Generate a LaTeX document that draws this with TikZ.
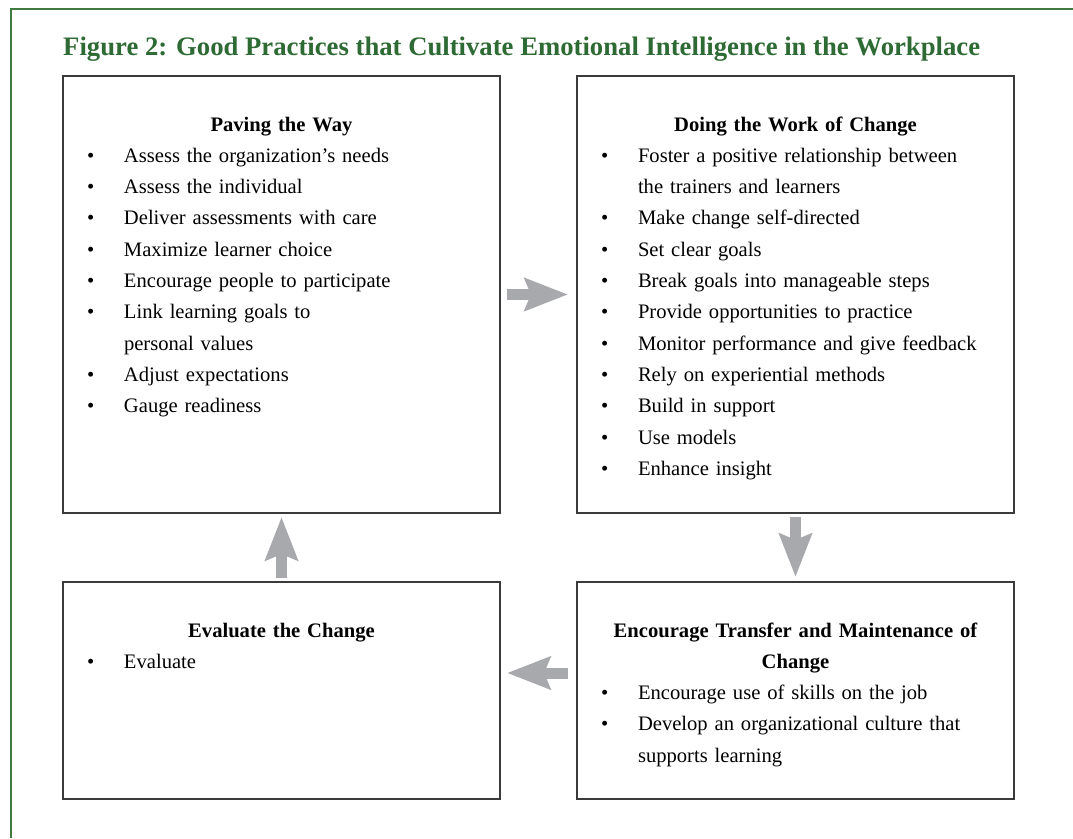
\documentclass[tikz,border=0pt]{standalone}
\usepackage{fontspec}
\setmainfont{Liberation Serif}
\usetikzlibrary{positioning,arrows.meta}
\definecolor{figgreen}{HTML}{2E6A33}
\definecolor{framegreen}{HTML}{3F7A40}
\definecolor{boxline}{HTML}{3A3A3A}
\definecolor{arrowgray}{HTML}{A7A9AC}
\newcommand{\panelhead}[1]{{\centering\bfseries\strut#1\par}}
\newcommand{\pitem}[1]{{\raggedright\hangindent=37pt\hangafter=1\noindent\makebox[37pt][l]{\textbullet}#1\par}}
\tikzset{
  panel/.style={draw=boxline, line width=1.5pt, minimum width=437pt, outer sep=0pt, inner sep=0pt},
  listtext/.style={text width=389pt, inner sep=0pt, outer sep=0pt, anchor=north west,
    font=\fontsize{20.6}{31.3}\selectfont},
  bigarrow/.style={draw=arrowgray, line width=11pt,
    -{Stealth[length=43pt, width=32pt, inset=6pt]}},
}
\begin{document}
\begin{tikzpicture}[x=1pt, y=-1pt]
\useasboundingbox (0,0) rectangle (1073,838);
\draw[framegreen, line width=2pt] (11,838) -- (11,9) -- (1073,9);
\node[anchor=base west, inner sep=0pt, text=figgreen, font=\fontsize{26.7}{32}\selectfont\bfseries] (title) at (63,55)
  {Figure 2: Good Practices that Cultivate Emotional Intelligence in the Workplace};

\node[panel, minimum height=437pt] (pave) at (281.5,294.5) {};
\node[panel, minimum height=437pt] (work) at (795.5,294.5) {};
\node[panel, minimum height=217pt] (eval) at (281.5,690.5) {};
\node[panel, minimum height=217pt] (enc) at (795.5,690.5) {};

\node[listtext] (pavelist) at ([xshift=24pt,yshift=-33.1pt]pave.north west) {%
  \panelhead{Paving the Way}
  \pitem{Assess the organization's needs}
  \pitem{Assess the individual}
  \pitem{Deliver assessments with care}
  \pitem{Maximize learner choice}
  \pitem{Encourage people to participate}
  \pitem{Link learning goals to\newline personal values}
  \pitem{Adjust expectations}
  \pitem{Gauge readiness}};

\node[listtext] (worklist) at ([xshift=24pt,yshift=-33.1pt]work.north west) {%
  \panelhead{Doing the Work of Change}
  \pitem{Foster a positive relationship between\newline the trainers and learners}
  \pitem{Make change self-directed}
  \pitem{Set clear goals}
  \pitem{Break goals into manageable steps}
  \pitem{Provide opportunities to practice}
  \pitem{Monitor performance and give feedback}
  \pitem{Rely on experiential methods}
  \pitem{Build in support}
  \pitem{Use models}
  \pitem{Enhance insight}};

\node[listtext] (evallist) at ([xshift=24pt,yshift=-33.1pt]eval.north west) {%
  \panelhead{Evaluate the Change}
  \pitem{Evaluate}};

\node[listtext] (enclist) at ([xshift=24pt,yshift=-33.1pt]enc.north west) {%
  \panelhead{Encourage Transfer and Maintenance of\\ Change}
  \pitem{Encourage use of skills on the job}
  \pitem{Develop an organizational culture that\newline supports learning}};

\draw[bigarrow] ([xshift=7pt]pave.east) -- ([xshift=-9pt]work.west);
\draw[bigarrow] ([yshift=-4pt]work.south) -- ([yshift=5pt]enc.north);
\draw[bigarrow] ([xshift=-9pt,yshift=17.5pt]enc.west) -- ([xshift=7pt,yshift=17.5pt]eval.east);
\draw[bigarrow] ([yshift=4pt]eval.north) -- ([yshift=-4pt]pave.south);
\end{tikzpicture}
\end{document}
